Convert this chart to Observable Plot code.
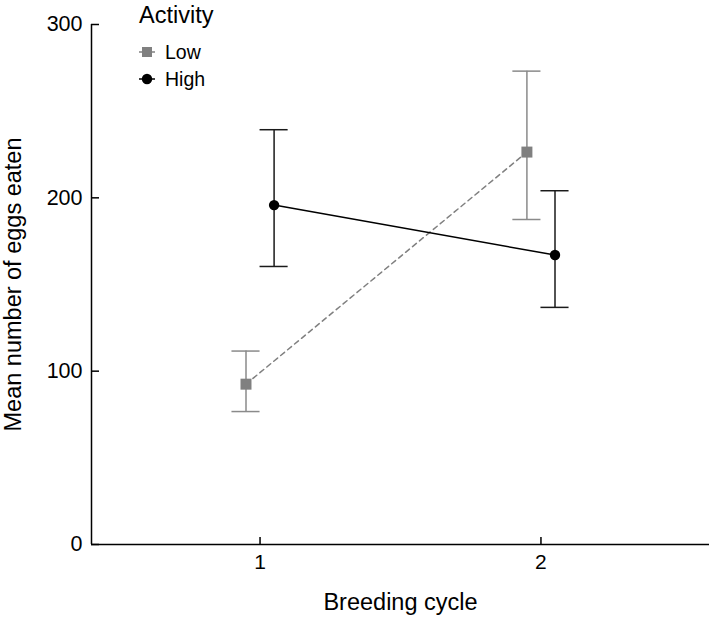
<!DOCTYPE html>
<html><head><meta charset="utf-8">
<script src="https://cdn.jsdelivr.net/npm/d3@7"></script>
<script src="https://cdn.jsdelivr.net/npm/@observablehq/plot@0.6"></script>
<style>
body{margin:0;background:#fff}
#wrap{position:relative;width:709px;height:617px;font-family:"Liberation Sans",Arial,sans-serif;color:#000}
.lg{position:absolute;white-space:nowrap;line-height:1}
#wrap g[aria-label="y-axis tick label"]{font-size:21.5px}
#wrap g[aria-label="x-axis tick label"]{font-size:21px}
</style>
</head><body><div id="wrap"></div>
<script>
const cycles = [1, 2];
const groups = ["Low", "High"];
const lowMean = [92.5, 226.4];
const lowLower = [76.7, 187.5];
const lowUpper = [111.6, 273.1];
const highMean = [195.8, 167.0];
const highLower = [160.4, 136.8];
const highUpper = [239.3, 204.1];
const yTicks = [0, 100, 200, 300];
const xTicks = [1, 2];
const xDomain = [0.4, 2.6];
const yDomain = [0, 300];
const xLabel = "Breeding cycle";
const yLabel = "Mean number of eggs eaten";
const legendTitle = "Activity";

const groupOffset = {Low: -0.05, High: 0.05};
const capHalf = 0.05;
const colors = {Low: "#808080", High: "#000000"};
const barColors = {Low: "#8a8a8a", High: "#1a1a1a"};

const rows = [];
cycles.forEach((c, i) => {
  rows.push({group: "Low", cycle: c, mean: lowMean[i], lo: lowLower[i], hi: lowUpper[i]});
  rows.push({group: "High", cycle: c, mean: highMean[i], lo: highLower[i], hi: highUpper[i]});
});
rows.forEach(d => d.xp = d.cycle + groupOffset[d.group]);
const low = rows.filter(d => d.group === "Low");
const high = rows.filter(d => d.group === "High");

const font = '"Liberation Sans", Arial, sans-serif';
const chart = Plot.plot({
  width: 709, height: 617,
  marginLeft: 91, marginRight: 0, marginTop: 24, marginBottom: 73,
  style: {fontFamily: font, fontSize: "21px", color: "#000", background: "#fff", overflow: "visible"},
  x: {domain: xDomain},
  y: {domain: yDomain},
  marks: [
    Plot.ruleX([xDomain[0]], {y1: yDomain[0], y2: yDomain[1], stroke: "#000", strokeWidth: 1.5}),
    Plot.ruleY([yDomain[0]], {stroke: "#000", strokeWidth: 1.5}),
    Plot.axisY({ticks: yTicks, tickSize: -8, tickPadding: 17, tickFormat: d => String(d), label: null, strokeWidth: 1.5}),
    Plot.axisX({ticks: xTicks, tickSize: -7, tickPadding: 17, tickFormat: d => String(d), label: null, strokeWidth: 1.5}),
    // dashed / solid connecting lines
    Plot.line(low, {x: "xp", y: "mean", stroke: colors.Low, strokeWidth: 1.5, strokeDasharray: "5,4"}),
    Plot.line(high, {x: "xp", y: "mean", stroke: colors.High, strokeWidth: 1.5}),
    // error bars
    Plot.ruleX(rows, {x: "xp", y1: "lo", y2: "hi", stroke: d => barColors[d.group], strokeWidth: 1.5}),
    Plot.ruleY(rows, {y: "lo", x1: d => d.xp - capHalf, x2: d => d.xp + capHalf, stroke: d => barColors[d.group], strokeWidth: 1.5}),
    Plot.ruleY(rows, {y: "hi", x1: d => d.xp - capHalf, x2: d => d.xp + capHalf, stroke: d => barColors[d.group], strokeWidth: 1.5}),
    // markers
    Plot.dot(low, {x: "xp", y: "mean", symbol: "square", r: 6.2, fill: colors.Low, stroke: "none"}),
    Plot.dot(high, {x: "xp", y: "mean", symbol: "circle", r: 5.2, fill: colors.High, stroke: "none"}),
    // axis titles
    Plot.text([xLabel], {frameAnchor: "bottom", text: d => d, textAnchor: "middle", lineAnchor: "bottom", dy: 65, fontSize: 23.5, fill: "#000"}),
    Plot.text([yLabel], {frameAnchor: "left", text: d => d, textAnchor: "middle", rotate: -90, lineAnchor: "bottom", dx: -71, fontSize: 23.5, fill: "#000"})
  ]
});
const wrap = document.getElementById("wrap");
wrap.appendChild(chart);

// legend
function addLegend() {
  const t = document.createElement("div");
  t.className = "lg"; t.textContent = legendTitle;
  t.style.cssText = "left:139px;top:4px;font-size:23.5px";
  wrap.appendChild(t);
  const items = [
    {g: groups[0], top: 42.5, cy: 52},
    {g: groups[1], top: 69.5, cy: 79}
  ];
  items.forEach(it => {
    const s = document.createElementNS("http://www.w3.org/2000/svg", "svg");
    s.setAttribute("width", 20); s.setAttribute("height", 16);
    s.style.cssText = `position:absolute;left:138px;top:${it.cy - 8}px`;
    const c = colors[it.g];
    let inner = `<line x1="1" x2="17" y1="8" y2="8" stroke="${c}" stroke-width="1.5"/>`;
    if (it.g === "Low") inner += `<rect x="4" y="3" width="10" height="10" fill="${c}"/>`;
    else inner += `<circle cx="9" cy="8" r="5.2" fill="${c}"/>`;
    s.innerHTML = inner;
    wrap.appendChild(s);
    const l = document.createElement("div");
    l.className = "lg"; l.textContent = it.g;
    l.style.cssText = `left:165px;top:${it.top}px;font-size:19.5px`;
    wrap.appendChild(l);
  });
}
addLegend();
</script>
</body></html>
